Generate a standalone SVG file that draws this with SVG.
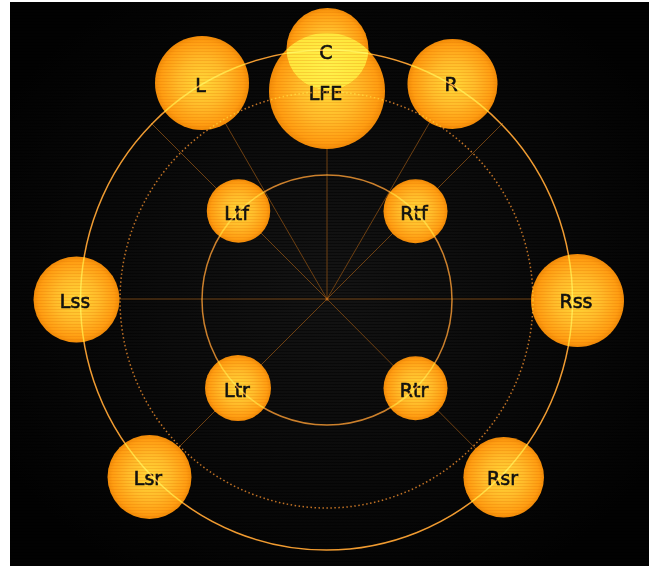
<svg xmlns="http://www.w3.org/2000/svg" width="656" height="566" viewBox="0 0 656 566">
<defs>
<radialGradient id="bg" cx="50%" cy="50%" r="60%">
<stop offset="0" stop-color="#141414"/>
<stop offset="1" stop-color="#020202"/>
</radialGradient>
<pattern id="bgscan" patternUnits="userSpaceOnUse" width="8" height="3">
<rect x="0" y="0" width="8" height="1" fill="#000" opacity="0.45"/>
</pattern>
<radialGradient id="sun" cx="50%" cy="50%" r="50%">
<stop offset="0" stop-color="#ffd838"/>
<stop offset="0.5" stop-color="#ffbc2a"/>
<stop offset="0.88" stop-color="#ff9e12"/>
<stop offset="1" stop-color="#f28c08"/>
</radialGradient>
<radialGradient id="glow" cx="50%" cy="30%" r="60%">
<stop offset="0" stop-color="#fff24a"/>
<stop offset="1" stop-color="#ffdc30"/>
</radialGradient>
<pattern id="scan" patternUnits="userSpaceOnUse" width="8" height="3">
<rect x="0" y="0" width="8" height="1" fill="#e06a00" opacity="0.22"/>
</pattern>
<clipPath id="clipC">
<circle cx="327.5" cy="49" r="41"/>
</clipPath>
<style>
.ball{fill:url(#sun);}
.scan{fill:url(#scan);}
.lbl{font-family:"DejaVu Sans","Liberation Sans",sans-serif;font-size:19px;fill:#111;stroke:#111;stroke-width:0.6;text-anchor:middle;}
.ray{stroke:#6e4012;stroke-width:1;fill:none;}
.ring{fill:none;mix-blend-mode:screen;}
</style>
</defs>
<rect x="0" y="0" width="656" height="566" fill="#ffffff"/>
<rect x="10" y="2" width="639" height="564" fill="url(#bg)"/>
<rect x="10" y="2" width="639" height="564" fill="url(#bgscan)"/>
<g id="connectors">
<line class="ray" x1="327" y1="299" x2="327" y2="140"/>
<line class="ray" x1="327" y1="299" x2="202" y2="83"/>
<line class="ray" x1="327" y1="299" x2="452" y2="84"/>
<line class="ray" x1="327" y1="299" x2="151" y2="123"/>
<line class="ray" x1="327" y1="299" x2="503" y2="123"/>
<line class="ray" x1="76" y1="299" x2="577" y2="299"/>
<line class="ray" x1="327" y1="299" x2="149" y2="477"/>
<line class="ray" x1="327" y1="299" x2="504" y2="477"/>
<circle cx="327" cy="299" r="1.5" fill="#c06a18"/>
</g>
<g id="node-LFE">
<circle class="ball" cx="327" cy="91" r="58"/>
<circle class="scan" cx="327" cy="91" r="58"/>
</g>
<g id="node-C">
<circle class="ball" cx="327.5" cy="49" r="41"/>
<circle cx="327" cy="91" r="58" fill="url(#glow)" clip-path="url(#clipC)"/>
<circle class="scan" cx="327.5" cy="49" r="41"/>
<text class="lbl" x="326" y="58.5">C</text>
</g>
<g id="node-LFE-label">
<text class="lbl" x="325.5" y="100">LFE</text>
</g>
<g id="node-L">
<circle class="ball" cx="202" cy="83" r="47"/>
<circle class="scan" cx="202" cy="83" r="47"/>
<text class="lbl" x="200.5" y="91.5">L</text>
</g>
<g id="node-R">
<circle class="ball" cx="452.5" cy="84" r="45"/>
<circle class="scan" cx="452.5" cy="84" r="45"/>
<text class="lbl" x="451" y="91">R</text>
</g>
<g id="node-Lss">
<circle class="ball" cx="76.5" cy="299.5" r="43"/>
<circle class="scan" cx="76.5" cy="299.5" r="43"/>
<text class="lbl" x="75" y="308">Lss</text>
</g>
<g id="node-Rss">
<circle class="ball" cx="577.5" cy="300.5" r="46.5"/>
<circle class="scan" cx="577.5" cy="300.5" r="46.5"/>
<text class="lbl" x="576" y="308">Rss</text>
</g>
<g id="node-Ltf">
<circle class="ball" cx="238.5" cy="211" r="31.7"/>
<circle class="scan" cx="238.5" cy="211" r="31.7"/>
<text class="lbl" x="236.5" y="219.5">Ltf</text>
</g>
<g id="node-Rtf">
<circle class="ball" cx="415.5" cy="211.3" r="32"/>
<circle class="scan" cx="415.5" cy="211.3" r="32"/>
<text class="lbl" x="414" y="219.5">Rtf</text>
</g>
<g id="node-Ltr">
<circle class="ball" cx="238" cy="388" r="33"/>
<circle class="scan" cx="238" cy="388" r="33"/>
<text class="lbl" x="237" y="397">Ltr</text>
</g>
<g id="node-Rtr">
<circle class="ball" cx="415.5" cy="388.3" r="32"/>
<circle class="scan" cx="415.5" cy="388.3" r="32"/>
<text class="lbl" x="414" y="397">Rtr</text>
</g>
<g id="node-Lsr">
<circle class="ball" cx="149.5" cy="477" r="42"/>
<circle class="scan" cx="149.5" cy="477" r="42"/>
<text class="lbl" x="148" y="485">Lsr</text>
</g>
<g id="node-Rsr">
<circle class="ball" cx="503.7" cy="477.3" r="40.3"/>
<circle class="scan" cx="503.7" cy="477.3" r="40.3"/>
<text class="lbl" x="502.5" y="485">Rsr</text>
</g>
<g id="rings">
<ellipse class="ring" cx="326.5" cy="300" rx="246" ry="250" stroke="#f0992c" stroke-width="1.5"/>
<ellipse class="ring" cx="326.5" cy="300" rx="206.5" ry="208" stroke="#c06e1e" stroke-width="1.5" stroke-dasharray="1.5 2.5"/>
<circle class="ring" cx="327" cy="300" r="125" stroke="#c97a22" stroke-width="1.5"/>
</g>
</svg>
